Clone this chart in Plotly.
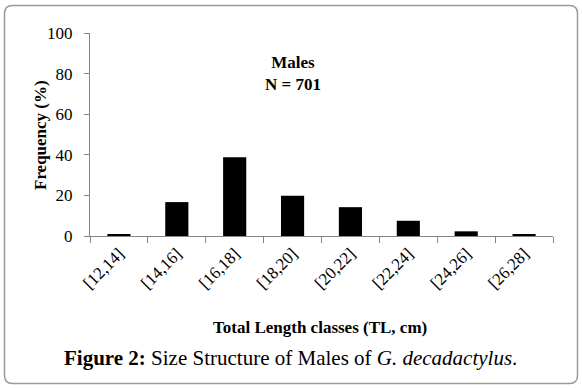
import plotly.graph_objects as go

categories = ["[12,14]", "[14,16]", "[16,18]", "[18,20]", "[20,22]", "[22,24]", "[24,26]", "[26,28]"]
frequency = [1.0, 16.7, 38.8, 19.8, 14.2, 7.5, 2.3, 0.8]
y_ticks = [0, 20, 40, 60, 80, 100]

W, H = 582, 388
L, R, T, B = 90, 29, 33, 152
PW, PH = W - L - R, H - T - B
FONT = "Liberation Serif, Times New Roman, serif"

fig = go.Figure(go.Bar(x=categories, y=frequency, marker=dict(color="black", line=dict(width=0)), width=0.4))

def px(x):
    return (x - L) / PW
def py(y):
    return (H - B - y) / PH

fig.update_layout(
    width=W, height=H,
    margin=dict(l=L, r=R, t=T, b=B, autoexpand=False),
    paper_bgcolor="white", plot_bgcolor="white",
    font=dict(family=FONT, size=17, color="black"),
    showlegend=False,
    xaxis=dict(
        type="category", tickangle=-45, tickson="boundaries", ticks="outside",
        ticklen=6, tickcolor="#868686", showline=True, linecolor="#868686", linewidth=1,
        showgrid=False, tickfont=dict(size=17, family=FONT), range=[-0.5, 7.5],
    ),
    yaxis=dict(
        range=[0, 100], tickvals=y_ticks, ticks="outside", ticklen=5, tickcolor="#868686",
        showline=True, linecolor="#868686", linewidth=1, showgrid=False, zeroline=False,
        tickfont=dict(size=17, family=FONT), ticklabelstandoff=8,
    ),
    annotations=[
        dict(text="<b>Males</b><br><b>N = 701</b>", x=px(293), y=py(73), xref="paper", yref="paper",
             showarrow=False, font=dict(size=17, family=FONT), xanchor="center", yanchor="middle",
             borderpad=0),
        dict(text="<b>Frequency (%)</b>", x=px(40), y=py(135), xref="paper", yref="paper",
             showarrow=False, textangle=-90, font=dict(size=17, family=FONT), xanchor="center", yanchor="middle"),
        dict(text="<b>Total Length classes (TL, cm)</b>", x=px(320), y=py(327), xref="paper", yref="paper",
             showarrow=False, font=dict(size=17, family=FONT), xanchor="center", yanchor="middle"),
        dict(text="<b>Figure 2:</b> Size Structure of Males of <i>G. decadactylus</i>.", x=px(290), y=py(358),
             xref="paper", yref="paper", showarrow=False, font=dict(size=21, family=FONT),
             xanchor="center", yanchor="middle"),
    ],
)

# rounded frame
x0, y0, x1, y1, r = 4.5, 5.5, 577.5, 383.5, 8
def P(x, y):
    return f"{px(x)},{py(y)}"
path = (f"M {P(x0 + r, y0)} L {P(x1 - r, y0)} Q {P(x1, y0)} {P(x1, y0 + r)} "
        f"L {P(x1, y1 - r)} Q {P(x1, y1)} {P(x1 - r, y1)} L {P(x0 + r, y1)} "
        f"Q {P(x0, y1)} {P(x0, y1 - r)} L {P(x0, y0 + r)} Q {P(x0, y0)} {P(x0 + r, y0)} Z")
fig.add_shape(type="path", path=path, xref="paper", yref="paper",
              line=dict(color="#9a9a9a", width=1.5), layer="below")

fig.write_html("out.html", config={"displayModeBar": False},
               post_script="document.body.style.margin='0';")
